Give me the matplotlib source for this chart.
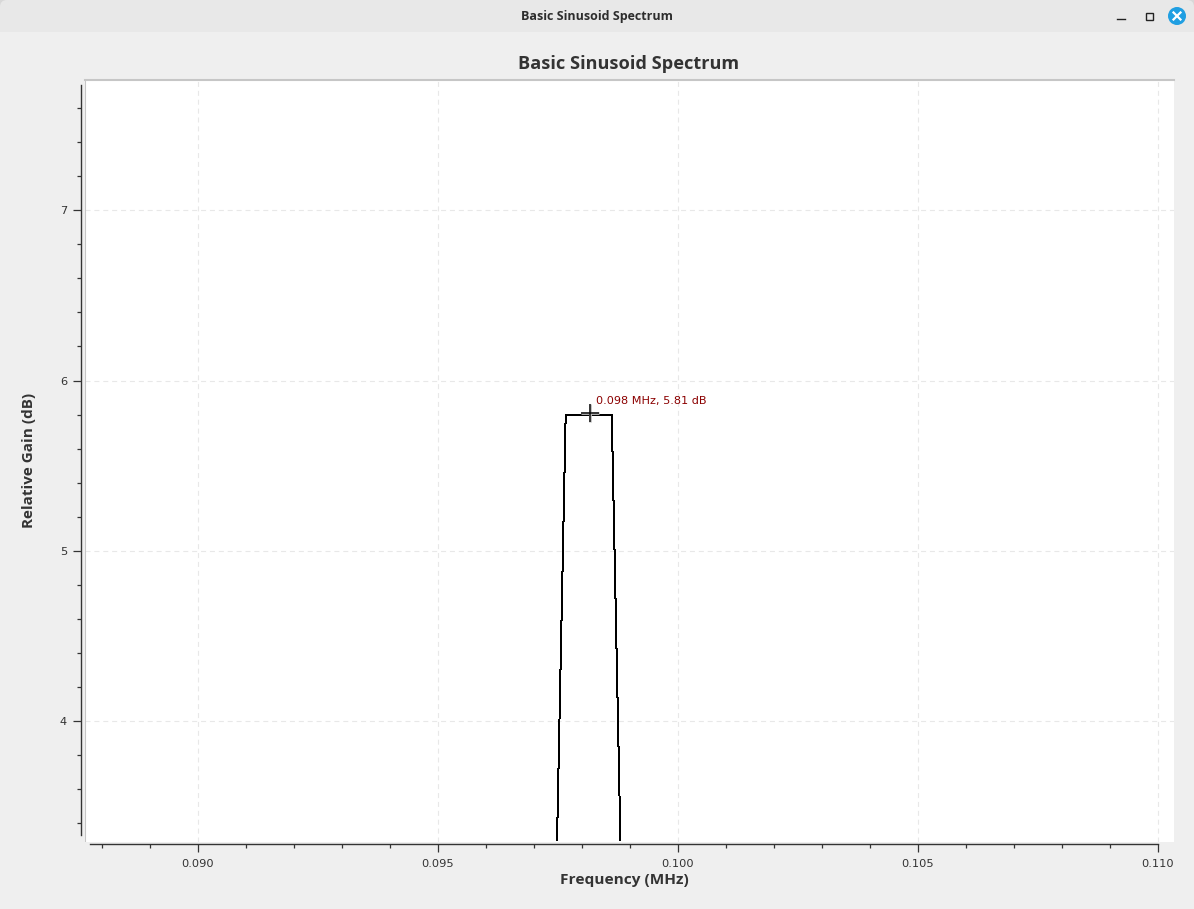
import matplotlib
matplotlib.use("Agg")
import matplotlib.pyplot as plt
from matplotlib.patches import FancyBboxPatch, Rectangle, Circle
from matplotlib.ticker import MultipleLocator, FuncFormatter

window_title = "Basic Sinusoid Spectrum"
plot_title = "Basic Sinusoid Spectrum"
x_label = "Frequency (MHz)"
y_label = "Relative Gain (dB)"

# trace, MHz / dB
freq_mhz = [0.09748, 0.09766, 0.09862, 0.09880]
gain_db = [3.30, 5.80, 5.80, 3.30]
peak_freq = [0.09816]
peak_gain = [5.81]
peak_label = "0.098 MHz, 5.81 dB"
x_major = [0.090, 0.095, 0.100, 0.105, 0.110]
y_major = [4, 5, 6, 7]

W, H = 1194, 909
BG = "#efefef"
BAR = "#e8e8e8"
AXIS = "#333333"
BORDER = "#c6c6c6"
GRID = "#e8e8e8"
HEAD_FONT = "Open Sans"

# pixel box of the white canvas and how values map on it
LEFT, RIGHT, TOP, BOTTOM = 85, 1174, 80, 842


def px_to_freq(px):
    return 0.090 + (px - 198) / 48000


def px_to_gain(px):
    return 6 - (px - 380.5) / 170.3


fig = plt.figure(figsize=(W / 100, H / 100), dpi=100, facecolor="#d8d8d8")

# window frame
chrome = fig.add_axes([0, 0, 1, 1], zorder=0)
chrome.set_xlim(0, W)
chrome.set_ylim(H, 0)
chrome.axis("off")
chrome.add_patch(FancyBboxPatch((0, 0), W, 80, boxstyle="round,pad=0,rounding_size=7",
                                fc=BAR, ec="none"))
chrome.add_patch(Rectangle((0, 32), W, H - 32, fc=BG, ec="none"))
chrome.text(596.5, 16.5, window_title, ha="center", va="center", fontsize=9,
            fontweight="bold", family=HEAD_FONT, color="#2d2d2d")
chrome.plot([1117, 1125], [18.5, 18.5], color="#222222", lw=1.0)
chrome.add_patch(Rectangle((1145.7, 12.5), 7, 7, fc="none", ec="#222222", lw=1.0))
chrome.add_patch(Circle((1177, 16), 9, fc="#209fe2", ec="none"))
chrome.plot([1173.5, 1180.5], [12.5, 19.5], color="white", lw=1.6)
chrome.plot([1173.5, 1180.5], [19.5, 12.5], color="white", lw=1.6)

# plot
ax = fig.add_axes([LEFT / W, 1 - BOTTOM / H, (RIGHT - LEFT) / W, (BOTTOM - TOP) / H], zorder=1)
ax.set_facecolor("white")
ax.set_xlim(px_to_freq(LEFT), px_to_freq(RIGHT))
ax.set_ylim(px_to_gain(BOTTOM), px_to_gain(TOP))

ax.plot(freq_mhz, gain_db, color="black", lw=0.72, antialiased=False, zorder=3)
ax.plot(peak_freq, peak_gain, "+", color="#bdbdbd", ms=13, mew=2.0, zorder=4)
ax.plot(peak_freq, peak_gain, "+", color="#111111", ms=13, mew=1.1, zorder=5)
ax.annotate(peak_label, (peak_freq[0], peak_gain[0]), xytext=(4.3, 8.4), textcoords="offset points",
            color="#8b0000", fontsize=8.15, va="center", ha="left", zorder=5)

ax.set_xticks(x_major)
ax.set_yticks(y_major)
ax.xaxis.set_minor_locator(MultipleLocator(0.001))
ax.yaxis.set_minor_locator(MultipleLocator(0.2))
ax.xaxis.set_major_formatter(FuncFormatter(lambda v, p: f"{v:.3f}"))
ax.yaxis.set_major_formatter(FuncFormatter(lambda v, p: f"{v:.0f}"))
ax.grid(True, which="major", color=GRID, lw=0.8, ls=(0, (4.5, 3.5)))
ax.set_axisbelow(True)

ax.spines["right"].set_visible(False)
ax.spines["top"].set_color(BORDER)
ax.spines["top"].set_linewidth(1.5)

# the scales sit a bit off the canvas, grey border stays on it
ax.spines["left"].set_position(("outward", 2.6))
ax.spines["left"].set_bounds(px_to_gain(835), px_to_gain(85))
ax.spines["left"].set_color(AXIS)
ax.spines["left"].set_linewidth(1.0)
ax.spines["bottom"].set_position(("outward", 1.5))
ax.spines["bottom"].set_bounds(px_to_freq(90), px_to_freq(1158))
ax.spines["bottom"].set_color(AXIS)
ax.spines["bottom"].set_linewidth(1.0)
ax.axvline(px_to_freq(LEFT), color=BORDER, lw=1.5, zorder=2)

ax.tick_params(which="major", length=5.8, width=0.9, color=AXIS, labelcolor=AXIS, labelsize=8.2)
ax.tick_params(which="minor", length=2.9, width=0.9, color=AXIS)
ax.tick_params(axis="x", which="major", pad=5.2)
ax.tick_params(axis="y", which="major", pad=4.5)

fig.text(629 / W, 1 - 64 / H, plot_title, ha="center", va="center", fontsize=13.05,
         fontweight="bold", family=HEAD_FONT, color=AXIS)
fig.text(624.5 / W, 1 - 880 / H, x_label, ha="center", va="center", fontsize=11.1,
         fontweight="bold", family=HEAD_FONT, color=AXIS)
fig.text(29.5 / W, 1 - 460 / H, y_label, ha="center", va="center", rotation=90, fontsize=11,
         fontweight="bold", family=HEAD_FONT, color=AXIS)

fig.savefig("out.png", dpi=100, facecolor=fig.get_facecolor())
